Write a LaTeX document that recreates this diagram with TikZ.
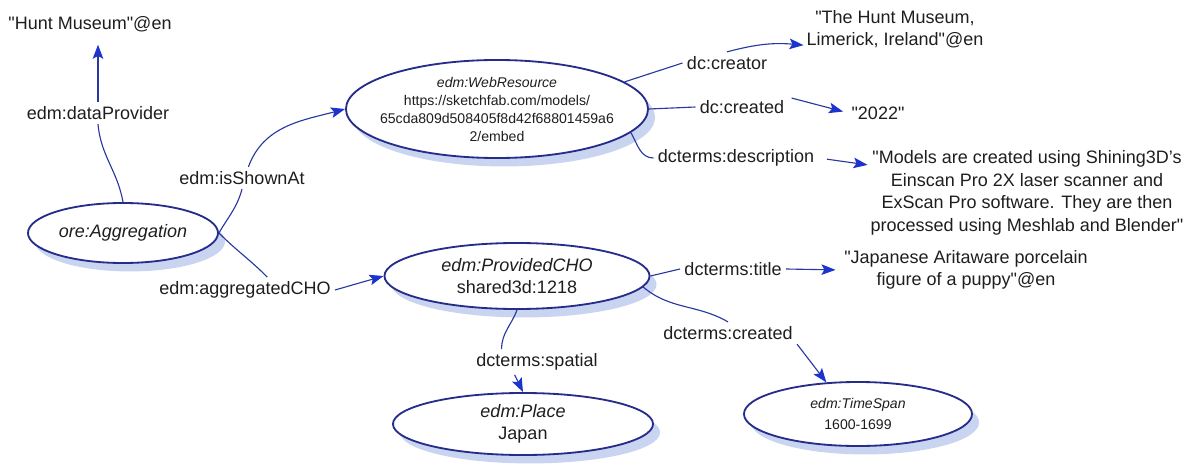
\documentclass[tikz,border=0pt]{standalone}
\usepackage{fontspec}
\setmainfont{Liberation Sans}
\usetikzlibrary{shapes.geometric,arrows.meta,shadows}
\definecolor{navy}{RGB}{38,44,138}
\definecolor{edgeblue}{RGB}{40,56,160}
\definecolor{tipblue}{RGB}{28,52,205}
\definecolor{ink}{RGB}{30,30,30}
\definecolor{shade}{RGB}{200,212,240}
\newcommand\bigtxt{\fontsize{12.8}{16}\selectfont}
\newcommand\smalltxt{\fontsize{10}{12.8}\selectfont}
\newcommand\q{\textquotedbl}

\begin{document}
\begin{tikzpicture}[x=0.025cm, y=0.025cm,
    res/.style={ellipse, draw=navy, line width=1.3pt, fill=white, text=ink,
        align=center, inner sep=1pt, font=\bigtxt,
        drop shadow={shadow xshift=5pt, shadow yshift=-6pt, fill=shade, opacity=1}},
    lbl/.style={text=ink, font=\bigtxt, inner sep=3pt},
    lit/.style={text=ink, font=\bigtxt, align=center, inner sep=2pt},
    edge/.style={draw=edgeblue, line width=0.8pt},
    arr/.style={edge, -{Stealth[length=10pt, width=7.5pt, inset=2pt, color=tipblue]}}]
  \useasboundingbox (0,0) rectangle (1190,-473);
  % resources
  \node[res, minimum width=4.75cm, minimum height=1.5cm] (agg) at (123,-233) {\textit{ore:Aggregation}};
  \node[res, font=\smalltxt, inner xsep=-8pt, inner ysep=0pt, minimum width=7.55cm, minimum height=2.45cm] (webres) at (497,-109)
    {{\fontsize{10}{15}\selectfont\textit{edm:WebResource}}\\https://sketchfab.com/models/\\65cda809d508405f8d42f68801459a6\\2/embed};
  \node[res, minimum width=6.625cm, minimum height=1.65cm] (cho) at (517,-276) {\textit{edm:ProvidedCHO}\\shared3d:1218};
  \node[res, minimum width=6.5cm, minimum height=1.55cm] (place) at (523,-424) {\textit{edm:Place}\\Japan};
  \node[res, font={\fontsize{10}{15}\selectfont}, minimum width=5.7cm, minimum height=1.6cm] (tspan) at (858,-414) {\textit{edm:TimeSpan}\\1600-1699};
  % literals
  \node[lit] (hunt) at (90,-24) {\q Hunt Museum\q @en};
  \node[lit] (hmText) at (895,-29) {\q The Hunt Museum,\\Limerick, Ireland\q @en};
  \node[lit] (y2022) at (878,-113) {\q 2022\q};
  \node[lit] (longText) at (1027,-193) {\q Models are created using Shining3D's\\Einscan Pro 2X laser scanner and\\ExScan Pro software. They are then\\processed using Meshlab and Blender\q};
  \node[lit] (japText) at (966,-270) {\q Japanese Aritaware porcelain\\figure of a puppy\q @en};
  % properties
  \node[lbl] (lDP) at (98,-113) {edm:dataProvider};
  \node[lbl] (lISA) at (242,-178) {edm:isShownAt};
  \node[lbl] (lAC) at (245,-290) {edm:aggregatedCHO};
  \node[lbl] (lCreator) at (727,-63) {dc:creator};
  \node[lbl] (lCreated) at (742,-107) {dc:created};
  \node[lbl] (lDesc) at (736,-158) {dcterms:description};
  \node[lbl] (lTitle) at (733,-269) {dcterms:title};
  \node[lbl] (lCreated2) at (728,-333) {dcterms:created};
  \node[lbl] (lSpatial) at (537,-362) {dcterms:spatial};
  % connectors
  \draw[edge] (agg.north) to[out=100, in=-85] (lDP.south);
  \draw[arr, shorten >=7pt] (lDP.north) -- (lDP.north |- hunt.south);
  \draw[edge] (agg.east) to[out=60, in=-105] (lISA.south);
  \draw[arr] (lISA.60) to[out=70, in=195] (webres.west);
  \draw[edge] (agg.east) to[out=-45, in=135] (lAC.30);
  \draw[arr] (lAC.east) -- (cho.west);
  \draw[edge] (webres.12) -- (lCreator.west);
  \draw[arr] (lCreator.north) to[out=15, in=175] (hmText.190);
  \draw[edge] (webres.east) -- (lCreated.west);
  \draw[arr, shorten <=6pt, shorten >=4pt] (lCreated.15) -- (y2022.west);
  \draw[edge] (webres.-10) to[out=-60, in=180] (lDesc.west);
  \draw[arr, shorten <=6pt] (lDesc.east) -- (longText.170);
  \draw[edge] (cho.east) -- (lTitle.west);
  \draw[arr, shorten >=4pt] (lTitle.east) -- (japText.west);
  \draw[edge] (cho.-5) to[out=-40, in=150] (lCreated2.north);
  \draw[arr] (lCreated2.south east) -- (tspan.135);
  \draw[edge] (cho.south) to[out=-110, in=90] (lSpatial.160);
  \draw[arr] (lSpatial.210) -- (place.north);
\end{tikzpicture}
\end{document}
